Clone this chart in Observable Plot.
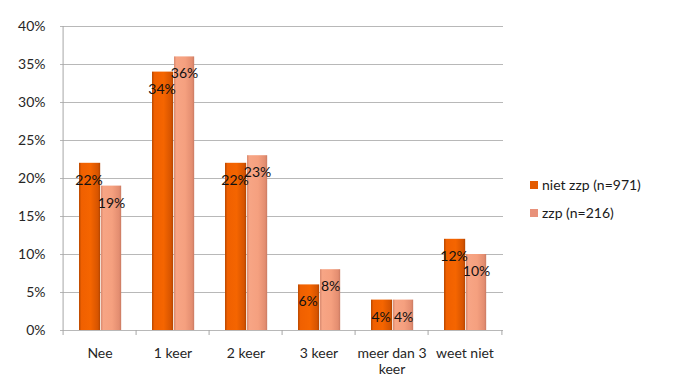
<!DOCTYPE html>
<html>
<head>
<meta charset="utf-8">
<script src="https://cdn.jsdelivr.net/npm/d3@7"></script>
<script src="https://cdn.jsdelivr.net/npm/@observablehq/plot@0.6"></script>
<style>
  html, body { margin: 0; padding: 0; background: #fff; }
  #wrap { position: relative; width: 675px; height: 382px; font-family: Lato, "Open Sans", sans-serif; }
  .legend { position: absolute; left: 530px; font-size: 14px; color: #1a1a1a; display: flex; align-items: center; }
  .legend span.sw { width: 8px; height: 8px; display: inline-block; margin-right: 4px; }
</style>
</head>
<body>
<div id="wrap"></div>
<script>
const categories = ["Nee", "1 keer", "2 keer", "3 keer", "meer dan 3 keer", "weet niet"];
const nietZzp = [22, 34, 22, 6, 4, 12];
const zzp = [19, 36, 23, 8, 4, 10];
const seriesNames = ["niet zzp (n=971)", "zzp (n=216)"];
const yTicks = [0, 5, 10, 15, 20, 25, 30, 35, 40];

const W = 675, H = 382, mL = 60, mR = 172, mT = 26, mB = 52;
const bw = (W - mL - mR) / categories.length;
const plotH = H - mT - mB;

const dark = categories.map((c, i) => ({cat: c, v: nietZzp[i] / 100}));
const light = categories.map((c, i) => ({cat: c, v: zzp[i] / 100}));

const darkL = 16, darkR = 38, lightL = 38, lightR = 59;

const chart = Plot.plot({
  width: W, height: H,
  marginLeft: mL, marginRight: mR, marginTop: mT, marginBottom: mB,
  style: {fontFamily: "Lato, 'Open Sans', sans-serif", fontSize: "14px", color: "#1a1a1a", background: "#fff"},
  x: {domain: categories, padding: 0},
  y: {domain: [0, 0.4]},
  marks: [
    Plot.gridY(yTicks.map(d => d / 100), {stroke: "#b8b8b8", strokeOpacity: 1}),
    Plot.ruleX([categories[0]], {x: d => d, dx: -bw / 2, stroke: "#a6a6a6"}),
    Plot.ruleX(categories, {x: d => d, dx: -bw / 2, stroke: "#a6a6a6", insetTop: plotH, insetBottom: -5}),
    Plot.ruleX([categories[categories.length - 1]], {x: d => d, dx: bw / 2, stroke: "#a6a6a6", insetTop: plotH, insetBottom: -5}),
    Plot.barY(dark, {x: "cat", y: "v", fill: "url(#gDark)", insetLeft: darkL, insetRight: bw - darkR}),
    Plot.barY(light, {x: "cat", y: "v", fill: "url(#gLight)", insetLeft: lightL, insetRight: bw - lightR}),
    Plot.text(dark, {x: "cat", y: "v", text: d => Math.round(d.v * 100) + "%", dx: (darkL + darkR) / 2 - bw / 2 - 1, dy: 17, fill: "#111", fontSize: 14}),
    Plot.text(light, {x: "cat", y: "v", text: d => Math.round(d.v * 100) + "%", dx: (lightL + lightR) / 2 - bw / 2, dy: 17, fill: "#111", fontSize: 14}),
    Plot.axisY(yTicks.map(d => d / 100), {tickSize: 0, tickPadding: 15, tickFormat: d => Math.round(d * 100) + "%", label: null, fontSize: 14, fill: "#262626"}),
    Plot.axisX({tickSize: 0, tickPadding: 16, label: null, fontSize: 14, fill: "#262626", lineHeight: 1.15,
      tickFormat: d => d === "meer dan 3 keer" ? "meer dan 3\nkeer" : d})
  ]
});

// gradients for the bevelled bars
const ns = "http://www.w3.org/2000/svg";
const defs = document.createElementNS(ns, "defs");
defs.innerHTML = `
  <linearGradient id="gDark" x1="0" x2="1" y1="0" y2="0">
    <stop offset="0" stop-color="#b84800"/>
    <stop offset="0.12" stop-color="#f06000"/>
    <stop offset="0.55" stop-color="#f56500"/>
    <stop offset="0.9" stop-color="#d65400"/>
    <stop offset="1" stop-color="#b04400"/>
  </linearGradient>
  <linearGradient id="gLight" x1="0" x2="1" y1="0" y2="0">
    <stop offset="0" stop-color="#d98a70"/>
    <stop offset="0.12" stop-color="#f7a585"/>
    <stop offset="0.55" stop-color="#f5a07f"/>
    <stop offset="0.9" stop-color="#e38d70"/>
    <stop offset="1" stop-color="#c97a62"/>
  </linearGradient>`;
chart.insertBefore(defs, chart.firstChild);

const wrap = document.getElementById("wrap");
wrap.appendChild(chart);

const legendColors = ["#e35a00", "#e8917a"];
const legendTops = [176, 204];
seriesNames.forEach((name, i) => {
  const div = document.createElement("div");
  div.className = "legend";
  div.style.top = legendTops[i] + "px";
  div.innerHTML = `<span class="sw" style="background:${legendColors[i]}"></span><span>${name}</span>`;
  wrap.appendChild(div);
});
</script>
</body>
</html>
